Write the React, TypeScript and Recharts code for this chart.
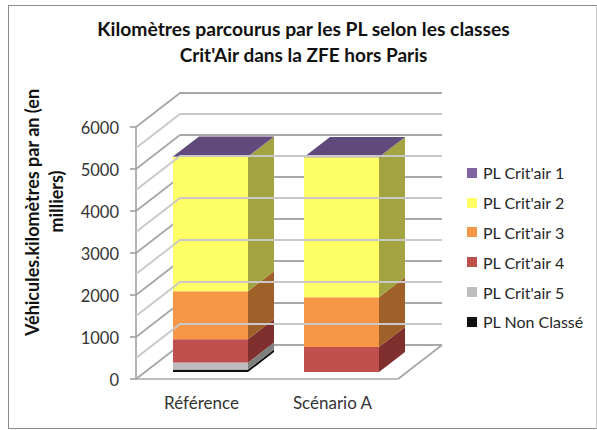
import { BarChart, Bar, XAxis, YAxis, CartesianGrid, Legend } from 'recharts';

const categories = ['Référence', 'Scénario A'];
const nonClasse = [58, 0];
const critair5 = [167, 0];
const critair4 = [555, 595];
const critair3 = [1143, 1184];
const critair2 = [3202, 3333];
const critair1 = [8, 8];
const yTicks = [0, 500, 1000, 1500, 2000, 2500, 3000, 3500, 4000, 4500, 5000, 5500, 6000];
const yMax = 6000;

const chartData = categories.map((name, i) => ({
  name,
  nonClasse: nonClasse[i],
  critair5: critair5[i],
  critair4: critair4[i],
  critair3: critair3[i],
  critair2: critair2[i],
  critair1: critair1[i],
}));

const series = [
  { key: 'nonClasse', label: 'PL Non Classé', front: '#111111', side: '#0a0a0a', top: '#0a0a0a' },
  { key: 'critair5', label: "PL Crit'air 5", front: '#bdbdbd', side: '#7f7f7f', top: '#7f7f7f' },
  { key: 'critair4', label: "PL Crit'air 4", front: '#c0504d', side: '#7f302e', top: '#7f302e' },
  { key: 'critair3', label: "PL Crit'air 3", front: '#f79646', side: '#a0602a', top: '#a0602a' },
  { key: 'critair2', label: "PL Crit'air 2", front: '#ffff66', side: '#a3a341', top: '#a3a341' },
  { key: 'critair1', label: "PL Crit'air 1", front: '#8064a2', side: '#604a7b', top: '#604a7b' },
];

const FONT = 'Lato, "Open Sans", sans-serif';
const PLOT_WIDTH = 262;
// oblique projection of the chart box
const WALL_DX = 44;
const WALL_DY = -34;
const BAR_DX = 26;
const BAR_DY = -20;
const FRONT_SHIFT_X = 9;
const FRONT_SHIFT_Y = -7;

function Box3D(props: any) {
  const { x, y, width, height, front, side, top, isTop } = props;
  if (!height || height <= 0) return null;
  const l = x + FRONT_SHIFT_X;
  const t = y + FRONT_SHIFT_Y;
  const r = l + width;
  const b = t + height;
  return (
    <g>
      <polygon points={`${r},${t} ${r + BAR_DX},${t + BAR_DY} ${r + BAR_DX},${b + BAR_DY} ${r},${b}`} fill={side} />
      <rect x={l} y={t} width={width} height={height} fill={front} />
      {isTop && (
        <polygon points={`${l},${t} ${l + BAR_DX},${t + BAR_DY} ${r + BAR_DX},${t + BAR_DY} ${r},${t}`} fill={top} />
      )}
    </g>
  );
}

function WallLine(props: any) {
  const { x1, y1, x2, index } = props;
  const bx = x1 + WALL_DX;
  const by = y1 + WALL_DY;
  const ex = x2 + WALL_DX;
  return (
    <g key={`wall-${index}`} fill="none">
      <polyline points={`${x1},${y1} ${bx},${by} ${ex},${by}`} stroke="#a8a8a8" strokeWidth={1.8} />
      {y1 > 370 && <polyline points={`${x2},${y1} ${ex},${by}`} stroke="#a8a8a8" strokeWidth={1.8} />}
    </g>
  );
}

function YTick(props: any) {
  const { x, y, payload } = props;
  // axis line sits 8px right of the tick anchor
  const ax = x + 8;
  if (payload.value % 1000 !== 0) {
    return (
      <polyline
        points={`${ax},${y} ${ax + WALL_DX},${y + WALL_DY} ${ax + WALL_DX + PLOT_WIDTH},${y + WALL_DY}`}
        fill="none"
        stroke="#c8c8c8"
        strokeWidth={1.8}
      />
    );
  }
  return (
    <g>
      <line x1={x + 2} x2={x + 8} y1={y} y2={y} stroke="#a0a0a0" strokeWidth={1.6} />
      <text x={x - 9} y={y + 6.5} textAnchor="end" fontSize={16.5} fontFamily={FONT} fill="#333333">
        {payload.value}
      </text>
    </g>
  );
}

function LegendList() {
  return (
    <div style={{ fontFamily: FONT, fontSize: 16, color: '#262626' }}>
      {[...series].reverse().map((s) => (
        <div key={s.key} style={{ display: 'flex', alignItems: 'center', height: 29.8 }}>
          <span style={{ width: 10, height: 10, background: s.front, marginRight: 6, display: 'inline-block' }} />
          {s.label}
        </div>
      ))}
    </div>
  );
}

export default function App() {
  return (
    <div style={{ position: 'absolute', left: 0, top: 0, width: 597, height: 430, background: '#fff', overflow: 'hidden' }}>
      <div
        style={{
          position: 'absolute',
          left: 8,
          top: 5,
          width: 587,
          height: 422,
          borderTop: '1px solid #8c8c8c',
          borderLeft: '1px solid #8c8c8c',
          borderBottom: '1px solid #8c8c8c',
          borderRight: '1px solid #c8c8c8',
        }}
      />
      <div style={{ position: 'absolute', left: 0, top: 0 }}>
        <BarChart
          width={597}
          height={430}
          data={chartData}
          margin={{ top: 127, right: 199, bottom: 21, left: 135 }}
          barSize={75}
        >
          <CartesianGrid
            vertical={false}
            horizontal={WallLine as any}
            horizontalCoordinatesGenerator={({ offset }: any) =>
              yTicks.filter((v) => v % 1000 === 0).map((v) => offset.top + offset.height * (1 - v / yMax))
            }
          />
          <XAxis
            dataKey="name"
            axisLine={{ stroke: '#a8a8a8', strokeWidth: 1.6 }}
            tickLine={false}
            tickMargin={12}
            tick={{ fontSize: 17, fontFamily: FONT, fill: '#333333' }}
          />
          <YAxis
            type="number"
            width={1}
            domain={[0, yMax]}
            ticks={yTicks}
            interval={0}
            zIndex={-50}
            axisLine={{ stroke: '#a0a0a0', strokeWidth: 1.6 }}
            tickLine={false}
            tick={<YTick />}
          />
          <Legend
            layout="vertical"
            align="center"
            verticalAlign="middle"
            wrapperStyle={{ left: 467, top: 158, width: 125 }}
            content={<LegendList />}
          />
          {series.map((s, i) => (
            <Bar
              key={s.key}
              dataKey={s.key}
              stackId="a"
              isAnimationActive={false}
              shape={(p: any) => (
                <Box3D {...p} front={s.front} side={s.side} top={s.top} isTop={i === series.length - 1} />
              )}
            />
          ))}
          <text x={303.5} y={36} textAnchor="middle" fontSize={19.3} fontWeight={700} fontFamily={FONT} fill="#111111">
            Kilomètres parcourus par les PL selon les classes
          </text>
          <text x={303.5} y={62} textAnchor="middle" fontSize={19} fontWeight={700} fontFamily={FONT} fill="#111111">
            Crit'Air dans la ZFE hors Paris
          </text>
          <g transform="translate(39,212.5) rotate(-90)" fontSize={18} fontWeight={700} fontFamily={FONT} fill="#111111" textAnchor="middle">
            <text x={0} y={0}>Véhicules.kilomètres par an (en</text>
            <text x={11} y={24}>milliers)</text>
          </g>
        </BarChart>
      </div>
    </div>
  );
}
